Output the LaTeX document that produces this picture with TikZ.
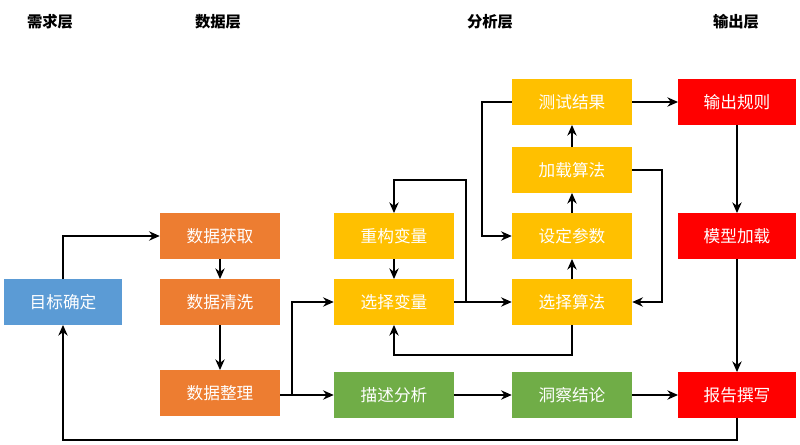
\documentclass[tikz,border=0pt]{standalone}
\usepackage{fontspec}
\newfontfamily\cjk{Noto Sans CJK SC}
\usetikzlibrary{arrows.meta}
\definecolor{blueb}{HTML}{5B9BD5}
\definecolor{orangeb}{HTML}{ED7D31}
\definecolor{goldb}{HTML}{FFC000}
\definecolor{greenb}{HTML}{70AD47}
\definecolor{redb}{HTML}{FF0000}
\tikzset{
  box/.style={rectangle, minimum width=90pt, minimum height=34pt, text=white, font=\cjk\fontsize{12.5}{14}\selectfont, inner sep=0pt},
  head/.style={font=\cjk\bfseries\fontsize{11.5}{13}\selectfont},
  arr/.style={-{Stealth[length=8pt,width=7pt]}, line width=1.2pt}
}
\begin{document}
\begin{tikzpicture}[x=0.75pt,y=-0.75pt]
        \useasboundingbox (0,0) rectangle (800,445);
        % Layer titles
        \node at (50, 22) (H1) [head] {需求层};
        \node at (218, 22) (H2) [head] {数据层};
        \node at (490, 22) (H3) [head] {分析层};
        \node at (736, 22) (H4) [head] {输出层};

        % Demand layer
        \node at (63, 302) (GOAL) [box, fill=blueb, minimum width=88pt] {目标确定};

        % Data layer
        \node at (220, 236) (GET) [box, fill=orangeb] {数据获取};
        \node at (220, 302) (CLEAN) [box, fill=orangeb] {数据清洗};
        \node at (220, 393) (SORT) [box, fill=orangeb] {数据整理};

        % Analysis layer
        \node at (394, 236) (REBUILD) [box, fill=goldb] {重构变量};
        \node at (394, 302) (SELVAR) [box, fill=goldb] {选择变量};
        \node at (394, 395) (DESC) [box, fill=greenb] {描述分析};
        \node at (572, 102) (TEST) [box, fill=goldb] {测试结果};
        \node at (572, 170) (LOAD) [box, fill=goldb] {加载算法};
        \node at (572, 236) (PARAM) [box, fill=goldb] {设定参数};
        \node at (572, 302) (SELALG) [box, fill=goldb] {选择算法};
        \node at (572, 395) (INSIGHT) [box, fill=greenb] {洞察结论};

        % Output layer
        \node at (737, 102) (RULE) [box, fill=redb, minimum width=88pt] {输出规则};
        \node at (737, 236) (MODEL) [box, fill=redb, minimum width=88pt] {模型加载};
        \node at (737, 395) (REPORT) [box, fill=redb, minimum width=88pt] {报告撰写};

        % Edges
        \draw[arr] (GOAL.north) |- (GET.west);
        \draw[arr] (GET) -- (CLEAN);
        \draw[arr] (CLEAN) -- (SORT);
        \draw[arr] (SORT.east |- DESC) -- (DESC.west);
        \draw[arr] (292, 395) |- (SELVAR.west);
        \draw[arr] (REBUILD) -- (SELVAR);
        \draw[arr] (SELVAR.east) -- (SELALG.west);
        \draw[arr] (466, 302) |- (394, 180) -- (REBUILD.north);
        \draw[arr] (SELALG.south) |- (394, 355) -- (SELVAR.south);
        \draw[arr] (SELALG) -- (PARAM);
        \draw[arr] (PARAM) -- (LOAD);
        \draw[arr] (LOAD) -- (TEST);
        \draw[arr] (LOAD.east) -| (662, 302) -- (SELALG.east);
        \draw[arr] (TEST.west) -| (482, 236) -- (PARAM.west);
        \draw[arr] (TEST) -- (RULE);
        \draw[arr] (DESC) -- (INSIGHT);
        \draw[arr] (INSIGHT) -- (REPORT);
        \draw[arr] (RULE) -- (MODEL);
        \draw[arr] (MODEL) -- (REPORT);
        \draw[arr] (REPORT.south) |- (63, 440) -- (GOAL.south);
    \end{tikzpicture}
\end{document}
